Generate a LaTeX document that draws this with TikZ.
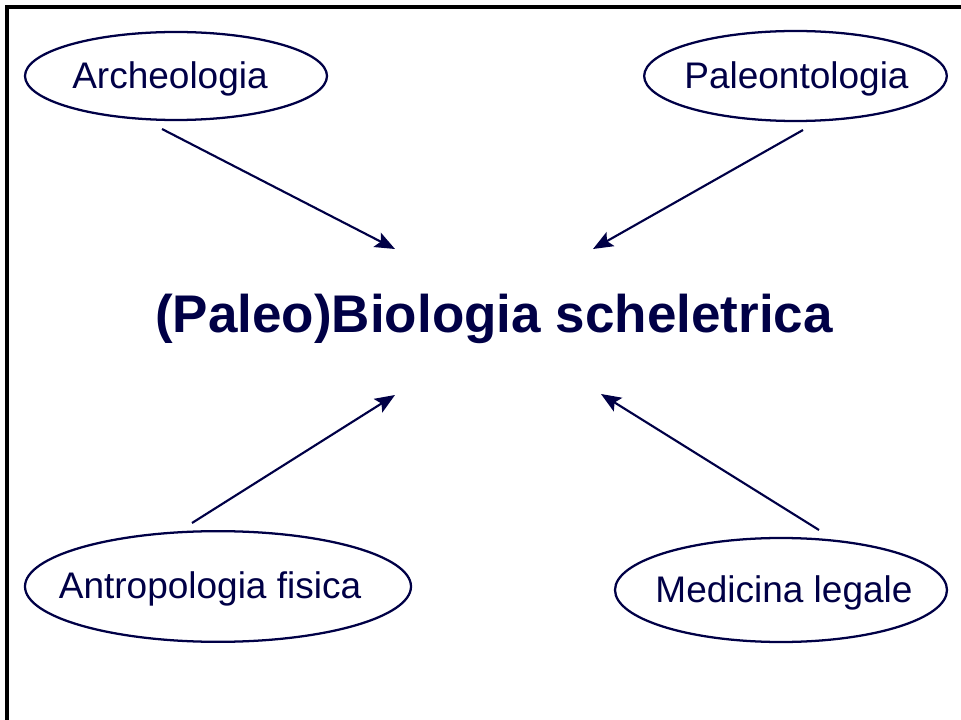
\documentclass[tikz,border=0pt]{standalone}
\usepackage{fontspec}
\setmainfont{Liberation Sans}
\usepackage{tikz}
\usetikzlibrary{positioning,shapes.geometric,arrows.meta}
\definecolor{navy}{RGB}{0,0,70}
\newcommand{\field}[7]{% x, y, width, height, name, label, label shift   (ellipse with its label)
  \node[ellipse,draw=navy,line width=1.7pt,minimum width=#3,minimum height=#4,inner sep=0] (#5) at (#1,#2) {};
  \node[font=\fontsize{27.75}{32}\selectfont,text=navy,xshift=#7,yshift=-2pt] (#5txt) at (#5) {#6};}

\begin{document}
\begin{tikzpicture}[x=0.75pt,y=-0.75pt,>={Stealth[length=15pt,width=12pt,inset=3pt]}]
  \useasboundingbox (0,0) rectangle (961,720);
  % frame (top and left edge)
  \draw[line width=2.4pt] (7,720) -- (7,7) -- (961,7);
  % the four fields
  \field{176}{76}{226.5pt}{66pt}{arch}{Archeologia}{-4.5pt}
  \field{795.5}{76}{227pt}{67.5pt}{paleo}{Paleontologia}{0.75pt}
  \field{218}{586.5}{289.5pt}{83pt}{antro}{Antropologia fisica}{-6pt}
  \field{781}{590}{249pt}{78pt}{medic}{Medicina legale}{2.25pt}
  % centre
  \node[font=\bfseries\fontsize{39.75}{46}\selectfont,text=navy] (bio) at (494,319) {(Paleo)Biologia scheletrica};
  \coordinate (archtail) at (162,129);  \coordinate (bionw) at (395,249);
  \coordinate (paleotail) at (803,130); \coordinate (bione) at (593,249);
  \coordinate (antrotail) at (192,523); \coordinate (biosw) at (395,395);
  \coordinate (medictail) at (819,530); \coordinate (biose) at (601,394);
  \begin{scope}[navy,line width=1.6pt]
    \draw[->] (archtail) -- (bionw);
    \draw[->] (paleotail) -- (bione);
    \draw[->] (antrotail) -- (biosw);
    \draw[->] (medictail) -- (biose);
  \end{scope}
\end{tikzpicture}
\end{document}
